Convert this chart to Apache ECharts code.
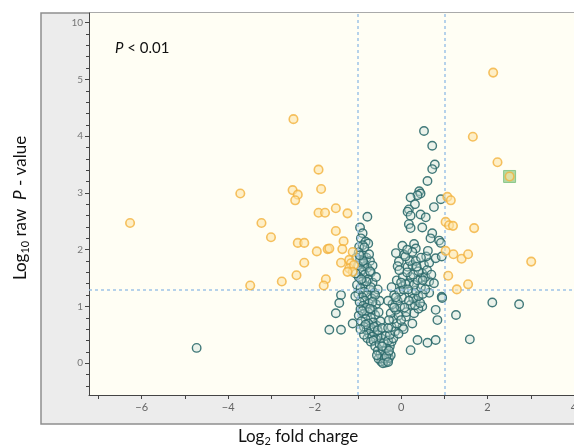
<!DOCTYPE html>
<html>
<head>
<meta charset="utf-8">
<script src="https://cdn.jsdelivr.net/npm/echarts@6/dist/echarts.min.js"></script>
<style>
  html, body { margin: 0; padding: 0; background: #ffffff; }
  #chart { width: 574px; height: 448px; }
</style>
</head>
<body>
<div id="chart"></div>
<script>
// Volcano plot: log2 fold change vs -log10 raw P-value.
// The y axis is linear from 0 to 5; the last segment (5 -> 10) is squeezed into one unit.

const X_MIN = -7.22, X_MAX = 4.0;
const Y_MIN = -0.56, Y_MAX = 6.17;

const xTickValues = [-7, -6, -5, -4, -3, -2, -1, 0, 1, 2, 3, 4];
const xLabelValues = [-6, -4, -2, 0, 2, 4];
const yLabelValues = [0, 1, 2, 3, 4, 5, 6];
const yLabelText = { 0: '0', 1: '1', 2: '2', 3: '3', 4: '4', 5: '5', 6: '10' };

const foldChangeCutoffs = [-1, 1];
const pValueCutoff = 1.3;

// significant genes (|log2 FC| > 1 and P < 0.05)
const significantPoints = [
  [-6.27, 2.47], [-3.72, 2.99], [-3.23, 2.47], [-3.01, 2.22], [-3.49, 1.37],
  [-2.76, 1.44], [-2.42, 1.55], [-2.49, 4.30], [-2.51, 3.05], [-2.39, 2.97],
  [-2.45, 2.87], [-2.39, 2.12], [-2.24, 2.12], [-2.24, 1.77], [-1.95, 1.97],
  [-1.91, 3.41], [-1.85, 3.07], [-1.91, 2.65], [-1.76, 2.65], [-1.70, 2.01],
  [-1.74, 1.48], [-1.79, 1.37], [-1.51, 2.73], [-1.24, 2.64], [-1.51, 2.33],
  [-1.66, 2.02], [-1.33, 2.15], [-1.36, 2.01], [-1.12, 1.96], [-1.39, 1.77],
  [-1.20, 1.82], [-1.16, 1.76], [-1.20, 1.67], [-1.09, 1.73], [-1.12, 1.61],
  [-1.24, 1.61],
  [1.07, 2.93], [1.15, 2.87], [1.03, 2.49], [1.11, 2.43], [1.20, 2.42],
  [1.03, 1.98], [1.21, 1.92], [1.40, 1.84], [1.55, 1.92], [1.09, 1.54],
  [1.29, 1.30], [1.55, 1.39], [1.69, 2.38], [2.13, 5.12], [1.66, 3.99],
  [2.23, 3.54], [2.51, 3.29], [3.01, 1.79]
];

// highlighted gene
const highlightedPoint = [[2.51, 3.29]];

// all remaining genes
const otherPoints = [
  [0.53, 4.09], [0.72, 3.83], [0.78, 3.50], [0.72, 3.42], [0.61, 3.21],
  [0.42, 3.03], [0.45, 2.99], [0.38, 2.96], [0.22, 2.92], [0.92, 2.89],
  [0.32, 2.80], [0.18, 2.71], [0.15, 2.67], [0.22, 2.60], [0.76, 2.75],
  [0.45, 2.62], [0.57, 2.57], [0.18, 2.45], [0.22, 2.38], [0.49, 2.39],
  [0.72, 2.29], [0.68, 2.20], [0.88, 2.16], [0.92, 2.12], [0.03, 2.07],
  [0.30, 2.10], [0.34, 2.02],
  [-0.78, 2.58], [-0.95, 2.39], [-0.89, 2.29], [-0.93, 2.20], [-0.82, 2.14],
  [-0.76, 2.11], [-0.89, 2.08], [-0.97, 2.05], [-0.85, 2.04],
  [-0.12, 1.94], [0.07, 1.91], [-0.05, 1.79], [-0.08, 1.71], [0.15, 1.70],
  [0.26, 1.73], [0.53, 1.73], [0.65, 1.77], [0.80, 1.85], [0.49, 1.58],
  [0.22, 1.52], [0.45, 1.50], [0.65, 1.44], [0.76, 1.41], [0.18, 1.41],
  [0.03, 1.35], [0.65, 1.24], [0.94, 1.17], [0.26, 1.23], [0.34, 1.11],
  [0.22, 1.03], [0.49, 1.00], [0.80, 0.94], [0.30, 0.88], [0.11, 0.82],
  [1.27, 0.85], [0.84, 0.76], [0.26, 0.70], [0.03, 0.64], [0.80, 0.41],
  [0.61, 0.36], [0.38, 0.41], [0.22, 0.23], [1.59, 0.42],
  [2.11, 1.07], [2.73, 1.04], [0.95, 1.15], [0.94, 1.88],
  [-1.39, 1.20], [-1.43, 1.06], [-1.51, 0.88], [-1.66, 0.59], [-1.39, 0.59],
  [-1.12, 0.70], [-0.89, 1.70], [-0.93, 1.61], [-4.73, 0.27],
  // left column
  [-0.98, 1.95], [-0.88, 1.90], [-0.80, 1.86], [-0.95, 1.82], [-0.72, 1.80],
  [-0.86, 1.76], [-1.00, 1.72], [-0.78, 1.68], [-0.92, 1.64], [-0.70, 1.60],
  [-0.84, 1.56], [-0.98, 1.52], [-0.76, 1.48], [-0.90, 1.44], [-0.66, 1.42],
  [-1.02, 1.38], [-0.82, 1.36], [-0.94, 1.32], [-0.72, 1.30], [-0.86, 1.26],
  [-0.62, 1.24], [-0.99, 1.22], [-0.78, 1.20], [-0.90, 1.16], [-0.68, 1.14],
  [-0.84, 1.10], [-0.96, 1.08], [-0.74, 1.05], [-0.58, 1.04], [-0.88, 1.01],
  [-0.80, 0.98], [-0.94, 0.95], [-0.66, 0.94], [-0.76, 0.90], [-0.86, 0.87],
  [-0.60, 0.85], [-0.98, 0.84], [-0.70, 0.80], [-0.82, 0.78], [-0.92, 0.74],
  [-0.64, 0.72], [-0.76, 0.70], [-0.56, 0.66], [-0.86, 0.64], [-0.70, 0.62],
  [-0.80, 0.58], [-0.62, 0.55], [-0.74, 0.52], [-0.52, 0.50], [-0.66, 0.47],
  [-0.78, 0.44], [-0.58, 0.42], [-0.70, 0.38], [-0.64, 0.40],
  [-1.04, 1.86], [-0.74, 1.92], [-0.66, 1.72], [-0.58, 1.52], [-1.05, 1.58],
  [-0.54, 1.30], [-1.06, 1.18], [-0.50, 1.10], [-0.60, 1.20], [-0.70, 1.34],
  [-0.80, 1.44], [-0.72, 1.62], [-0.88, 1.80], [-0.96, 1.90], [-0.92, 1.48],
  [-0.66, 1.08], [-0.90, 0.92], [-0.82, 0.68], [-0.72, 0.96], [-0.62, 0.64],
  [-0.86, 0.50], [-0.94, 0.60],
  // bottom of the V
  [-0.60, 0.30], [-0.54, 0.22], [-0.48, 0.16], [-0.44, 0.10], [-0.40, 0.05],
  [-0.36, 0.01], [-0.32, 0.04], [-0.28, 0.09], [-0.46, 0.03], [-0.38, 0.14],
  [-0.30, 0.18], [-0.52, 0.08], [-0.42, 0.22], [-0.56, 0.14], [-0.34, 0.26],
  [-0.24, 0.14], [-0.26, 0.30], [-0.22, 0.38], [-0.50, 0.34],
  [-0.46, 0.44], [-0.54, 0.58], [-0.48, 0.74], [-0.52, 0.90], [-0.44, 0.62],
  [-0.40, 0.36], [-0.36, 0.48], [-0.30, 0.40], [-0.44, 0.30], [-0.38, 0.08],
  [-0.42, 0.00], [-0.34, 0.12], [-0.28, 0.22], [-0.30, 0.02],
  // right arm
  [-0.18, 0.44], [-0.26, 0.50], [-0.14, 0.56], [-0.22, 0.64], [-0.10, 0.70],
  [-0.18, 0.78], [-0.06, 0.84], [-0.24, 0.88], [-0.12, 0.94], [-0.02, 1.00],
  [-0.20, 1.04], [-0.08, 1.10], [0.02, 1.16], [-0.16, 1.20], [-0.04, 1.26],
  [0.06, 1.30], [-0.22, 1.34], [0.10, 1.40], [-0.10, 1.46], [0.04, 1.52],
  [0.14, 1.60], [-0.04, 1.64], [0.20, 1.80], [0.10, 1.88],
  [0.12, 0.90], [0.40, 0.96], [0.32, 1.02], [0.44, 1.06], [0.28, 1.14],
  [0.40, 1.18], [0.50, 1.22], [0.34, 1.28], [0.46, 1.34], [0.56, 1.30],
  [0.30, 1.38], [0.38, 1.46], [0.56, 1.52], [0.28, 1.56], [0.40, 1.62],
  [0.60, 1.64], [0.34, 1.80], [0.58, 1.88], [0.26, 1.96], [0.62, 1.98],
  [-0.30, 0.62], [-0.28, 0.76], [-0.16, 0.98], [-0.30, 1.10], [-0.12, 1.16],
  [0.00, 1.42], [0.18, 1.10], [0.08, 0.98], [0.16, 1.30], [0.00, 0.76],
  [0.06, 0.60], [-0.06, 0.52], [0.36, 1.70], [0.46, 1.86], [0.50, 1.46],
  [0.70, 1.56], [0.14, 2.00]
];

const FONT = 'Lato, "Open Sans", sans-serif';
const chart = echarts.init(document.getElementById('chart'), null, { renderer: 'canvas' });

// short ticks every 0.2 between the labelled ones
const minorY = [];
for (let k = -2; k * 0.2 < Y_MAX; k++) {
  if (k % 5 !== 0) minorY.push(Math.round(k * 2) / 10);
}

chart.setOption({
  animation: false,
  backgroundColor: '#ffffff',
  graphic: [
    {
      type: 'rect', z: -10, silent: true,
      shape: { x: 41, y: 13, width: 560, height: 411 },
      style: { fill: '#ececec', stroke: '#8e8e8e', lineWidth: 1.5 }
    },
    {
      type: 'text', left: 115, top: 41, z: 10,
      style: {
        text: '{i|P}{n| < 0.01}',
        rich: {
          i: { fontFamily: FONT, fontSize: 15, fontStyle: 'italic', fill: '#111' },
          n: { fontFamily: FONT, fontSize: 15, fill: '#111' }
        }
      }
    },
    {
      type: 'text', x: 298, y: 437, z: 10,
      style: {
        text: '{n|Log}{s|2}{n| fold charge}',
        align: 'center', verticalAlign: 'middle',
        rich: {
          n: { fontFamily: FONT, fontSize: 17, fill: '#111' },
          s: { fontFamily: FONT, fontSize: 11, fill: '#111', padding: [9, 0, 0, 0] }
        }
      }
    },
    {
      type: 'text', x: 21, y: 208, rotation: Math.PI / 2, z: 10,
      style: {
        text: '{n|Log}{s|10}{n| raw  }{i|P}{n| - value}',
        align: 'center', verticalAlign: 'middle',
        rich: {
          n: { fontFamily: FONT, fontSize: 17, fill: '#111' },
          i: { fontFamily: FONT, fontSize: 17, fontStyle: 'italic', fill: '#111' },
          s: { fontFamily: FONT, fontSize: 11, fill: '#111', padding: [9, 0, 0, 0] }
        }
      }
    }
  ],
  grid: {
    left: 89, right: 0, top: 13, bottom: 53,
    containLabel: false, outerBoundsMode: 'none',
    show: true, backgroundColor: '#fffef4', borderWidth: 0
  },
  xAxis: [{
    type: 'value', min: X_MIN, max: X_MAX,
    axisLine: { show: true, onZero: false, lineStyle: { color: '#444', width: 1 } },
    axisTick: { show: true, customValues: xTickValues, length: 4, lineStyle: { color: '#444' } },
    axisLabel: {
      customValues: xLabelValues, color: '#666', fontFamily: FONT, fontSize: 11, margin: 7,
      hideOverlap: false,
      formatter: v => (v < 0 ? '\u2212' + Math.abs(v) : String(v))
    },
    splitLine: { show: false }
  }],
  yAxis: [{
    type: 'value', min: Y_MIN, max: Y_MAX,
    axisLine: { show: true, onZero: false, lineStyle: { color: '#444', width: 1 } },
    axisTick: { show: true, customValues: yLabelValues, length: 4, lineStyle: { color: '#444' } },
    axisLabel: {
      customValues: yLabelValues, color: '#777', fontFamily: FONT, fontSize: 10, margin: 6,
      formatter: v => yLabelText[Math.round(v)]
    },
    splitLine: { show: false }
  }, {
    type: 'value', min: Y_MIN, max: Y_MAX, position: 'left',
    axisLine: { show: false, onZero: false },
    axisTick: { show: true, customValues: minorY, length: 3, lineStyle: { color: '#444' } },
    axisLabel: { show: false },
    splitLine: { show: false }
  }],
  series: [
    {
      type: 'scatter', name: 'other', data: otherPoints, z: 3,
      symbol: 'circle', symbolSize: 8.5,
      itemStyle: { color: 'rgba(200,222,216,0.4)', borderColor: '#2c6a6c', borderWidth: 1.4, opacity: 0.9 },
      markLine: {
        silent: true, symbol: 'none', label: { show: false },
        lineStyle: { color: '#9fc3e6', width: 1.5, type: [3, 3] },
        data: [
          ...foldChangeCutoffs.map(v => ({ xAxis: v })),
          { yAxis: pValueCutoff }
        ]
      }
    },
    {
      type: 'scatter', name: 'highlight', data: highlightedPoint, z: 4,
      symbol: 'rect', symbolSize: 12,
      itemStyle: { color: '#9fd08e', borderColor: '#78c07a', borderWidth: 1 }
    },
    {
      type: 'scatter', name: 'significant', data: significantPoints, z: 5,
      symbol: 'circle', symbolSize: 8.5,
      itemStyle: { color: 'rgba(253,228,168,0.75)', borderColor: '#f2b23c', borderWidth: 1.6 }
    }
  ]
});
</script>
</body>
</html>
